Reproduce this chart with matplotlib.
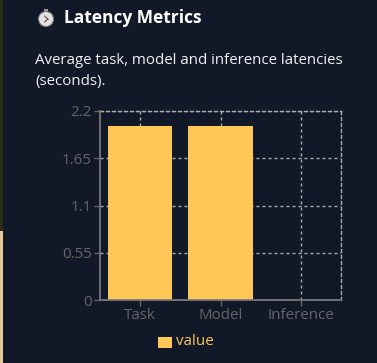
import matplotlib
matplotlib.use('Agg')
import matplotlib.pyplot as plt
from matplotlib.patches import Rectangle, Circle

categories = ['Task', 'Model', 'Inference']
values = [2.03, 2.03, 0]
y_ticks = [0, 0.55, 1.1, 1.65, 2.2]
y_tick_labels = ['0', '0.55', '1.1', '1.65', '2.2']

W, H = 377, 363
bg = '#111827'
bar_color = '#ffc658'
axis_color = '#666666'
grid_color = '#a9acb2'
dash = (0, (2.16, 2.16))

plt.rcParams['font.family'] = ['Open Sans', 'DejaVu Sans']


def px(x, y):
    # pixel position from the top left, to figure fractions
    return x / W, 1 - y / H


fig = plt.figure(figsize=(W / 100, H / 100), dpi=100, facecolor=bg)

# strip of the page behind the card
fig.add_artist(Rectangle((0, 1 - 231 / H), 3 / W, 231 / H, transform=fig.transFigure, color='#2a2c14', lw=0))
fig.add_artist(Rectangle((0, 0), 3 / W, 1 - 231 / H, transform=fig.transFigure, color='#e8c898', lw=0))

# stopwatch icon
icon = fig.add_axes([0, 0, 1, 1], facecolor='none')
icon.set_xlim(0, W)
icon.set_ylim(H, 0)
icon.axis('off')
icon.add_patch(Rectangle((44, 8.5), 4, 3, color='#9a9a9a', lw=0))
icon.add_patch(Circle((46, 19), 7.5, color='#e4e4e4', lw=0))
icon.add_patch(Circle((46, 19), 7.5, fill=False, ec='#777777', lw=0.8))
icon.plot([44.5, 48, 44.5], [16, 19, 22], color='#444444', lw=0.7)
icon.plot([46, 48], [19, 19], color='#d9534f', lw=0.7)

fig.text(*px(63.5, 18), 'Latency Metrics', color='white', fontsize=12.5, fontweight='bold', va='center', ha='left')
fig.text(*px(35, 60), 'Average task, model and inference latencies', color='#f1f2f4', fontsize=10.8, va='center', ha='left')
fig.text(*px(35, 81), '(seconds).', color='#f1f2f4', fontsize=10.8, va='center', ha='left')

left, right, top, bottom = 100, 341, 111, 300
ax = fig.add_axes([left / W, 1 - bottom / H, (right - left) / W, (bottom - top) / H], facecolor='none')
x = list(range(len(categories)))
ax.bar(x, values, width=0.8, color=bar_color, zorder=3)
ax.set_xlim(-0.5, 2.5)
ax.set_ylim(0, 2.2)

ax.set_xticks(x)
ax.set_xticklabels(categories)
ax.set_yticks(y_ticks)
ax.set_yticklabels(y_tick_labels)
ax.tick_params(axis='x', colors=axis_color, labelsize=10.9, length=4, width=1, pad=1.5)
ax.tick_params(axis='y', colors=axis_color, labelsize=10.9, length=4.5, width=1, pad=1.5)
ax.grid(True, color=grid_color, lw=1, linestyle=dash, zorder=1)
ax.set_axisbelow(True)

for side in ['left', 'bottom']:
    ax.spines[side].set_color('#777777')
    ax.spines[side].set_linewidth(1.3)
    ax.spines[side].set_zorder(4)
for side in ['top', 'right']:
    ax.spines[side].set_color(grid_color)
    ax.spines[side].set_linewidth(1)
    ax.spines[side].set_linestyle(dash)

# legend
fig.add_artist(Rectangle((158 / W, 1 - 348 / H), 14 / W, 11 / H, transform=fig.transFigure, color=bar_color, lw=0))
fig.text(*px(176, 341.5), 'value', color=bar_color, fontsize=10.9, va='center', ha='left')

fig.savefig('out.png', dpi=100, facecolor=bg)
